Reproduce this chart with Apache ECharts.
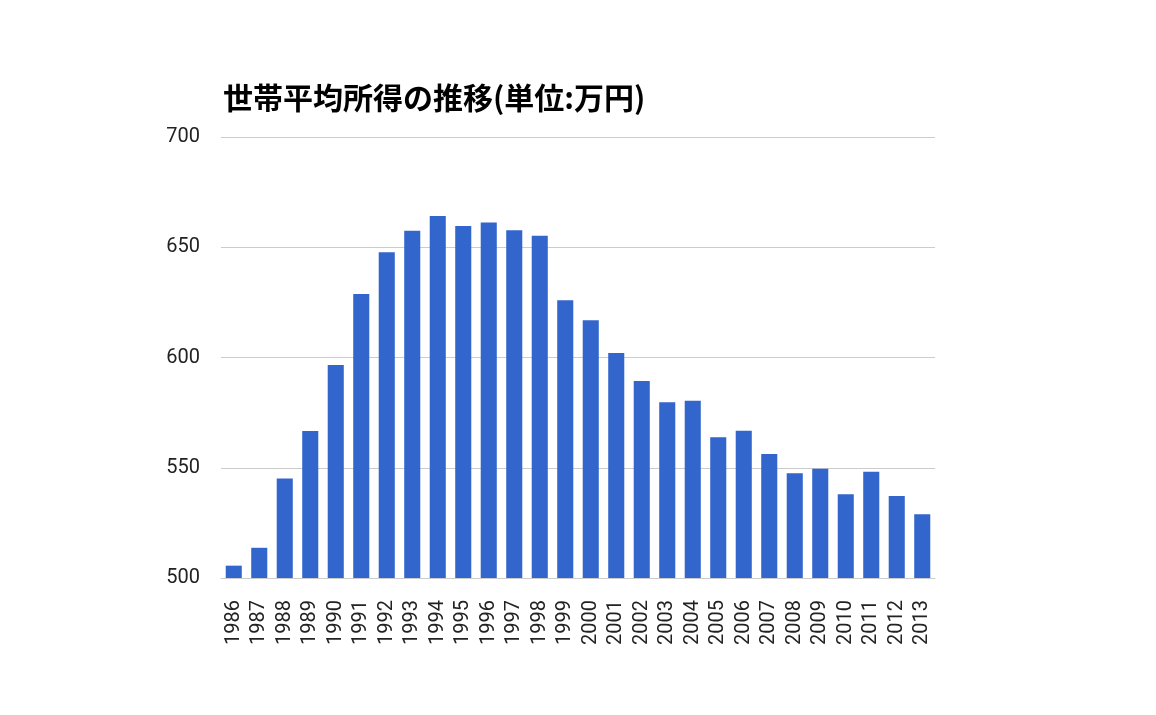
<!DOCTYPE html>
<html>
<head>
<meta charset="utf-8">
<script src="https://cdn.jsdelivr.net/npm/echarts@6/dist/echarts.min.js"></script>
<style>
  html, body { margin: 0; padding: 0; background: #fff; }
  #main { width: 1156px; height: 715px; }
</style>
</head>
<body>
<div id="main"></div>
<script>
var myChart = echarts.init(document.getElementById('main'));

// 年と世帯平均所得(万円)
var years = ['1986','1987','1988','1989','1990','1991','1992','1993','1994','1995',
  '1996','1997','1998','1999','2000','2001','2002','2003','2004','2005',
  '2006','2007','2008','2009','2010','2011','2012','2013'];
var income = [505.6, 513.7, 545.1, 566.7, 596.6, 628.8, 647.7, 657.5, 664.2, 659.6,
  661.2, 657.7, 655.2, 626.0, 616.9, 602.0, 589.3, 579.7, 580.4, 563.8,
  566.8, 556.2, 547.5, 549.6, 538.0, 548.2, 537.2, 528.9];
var yTicks = [500, 550, 600, 650, 700];

var option = {
    animation: false,
    title: {
        text: '世帯平均所得の推移(単位:万円)',
        left: 218,
        top: 78,
        textStyle: {
            fontFamily: 'Noto Sans CJK JP',
            fontWeight: 'bold',
            fontSize: 30,
            color: '#000'
        }
    },
    grid: {
        left: 221,
        right: 221,
        top: 137,
        bottom: 137
    },
    xAxis: {
        type: 'category',
        data: years,
        axisLine: { show: true, lineStyle: { color: '#cccccc' } },
        axisTick: { show: false },
        axisLabel: {
            rotate: 90,
            interval: 0,
            margin: 22,
            fontFamily: 'Roboto',
            fontSize: 20,
            color: '#222'
        }
    },
    yAxis: {
        type: 'value',
        min: yTicks[0],
        max: yTicks[yTicks.length - 1],
        interval: 50,
        axisLine: { show: false },
        axisTick: { show: false },
        splitLine: { lineStyle: { color: '#cccccc' } },
        axisLabel: {
            margin: 21,
            fontFamily: 'Roboto',
            fontSize: 20,
            color: '#222'
        }
    },
    series: [{
        name: '世帯平均所得',
        type: 'bar',
        data: income,
        barCategoryGap: '37%',
        itemStyle: { color: '#3366cc' }
    }]
};

myChart.setOption(option);
</script>
</body>
</html>
